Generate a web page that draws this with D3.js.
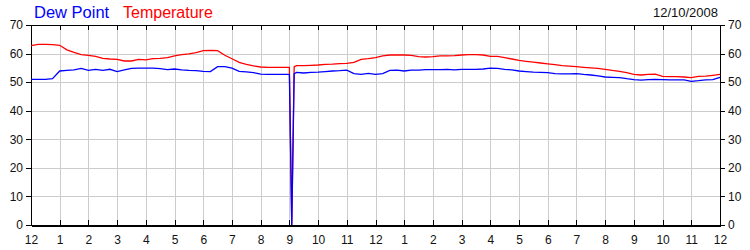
<!DOCTYPE html>
<html>
<head>
<meta charset="utf-8">
<script src="https://cdn.jsdelivr.net/npm/d3@7"></script>
<style>
  html, body { margin: 0; padding: 0; background: #fff; }
  svg { display: block; font-family: Arial, "Liberation Sans", sans-serif; }
  .grid line { stroke: #cccccc; stroke-width: 1; shape-rendering: crispEdges; }
  .axis path, .axis line { stroke: #000; shape-rendering: crispEdges; }
  .axis text { font-size: 12px; fill: #111; }
</style>
</head>
<body>
<div class="chart"></div>
<script>
// hours since midnight (12/10/2008)
const times = [
  0, 0.25, 0.5, 0.75, 1, 1.25, 1.5, 1.75, 2, 2.25, 2.5, 2.75,
  3, 3.25, 3.5, 3.75, 4, 4.25, 4.5, 4.75, 5, 5.25, 5.5, 5.75,
  6, 6.25, 6.5, 6.75, 7, 7.25, 7.5, 7.75, 8, 8.25, 8.5, 8.75,
  9, 9.083, 9.167, 9.25, 9.5, 9.75, 10, 10.25, 10.5, 10.75, 11, 11.25,
  11.5, 11.75, 12, 12.25, 12.5, 12.75, 13, 13.25, 13.5, 13.75, 14, 14.25,
  14.5, 14.75, 15, 15.25, 15.5, 15.75, 16, 16.25, 16.5, 16.75, 17, 17.25,
  17.5, 17.75, 18, 18.25, 18.5, 18.75, 19, 19.25, 19.5, 19.75, 20, 20.25,
  20.5, 20.75, 21, 21.25, 21.5, 21.75, 22, 22.25, 22.5, 22.75, 23, 23.25,
  23.5, 23.75, 24
]

const temperature = [
  62.8, 63.2, 63.2, 63.1, 62.9, 61.3, 60.4, 59.6, 59.4, 59.0, 58.3, 58.1,
  58.0, 57.4, 57.4, 58.0, 57.8, 58.2, 58.3, 58.6, 59.2, 59.6, 59.9, 60.3,
  61.0, 61.1, 61.0, 59.4, 58.2, 56.9, 56.2, 55.7, 55.3, 55.2, 55.2, 55.2,
  55.2, 0, 55.4, 55.8, 55.8, 55.9, 56.0, 56.2, 56.3, 56.5, 56.6, 56.9,
  58.0, 58.2, 58.6, 59.2, 59.5, 59.5, 59.5, 59.4, 58.9, 58.8, 58.9, 59.2,
  59.2, 59.3, 59.5, 59.6, 59.6, 59.5, 59.0, 59.0, 58.6, 58.1, 57.6, 57.3,
  57.0, 56.7, 56.4, 56.1, 55.8, 55.6, 55.4, 55.2, 55.0, 54.8, 54.5, 54.1,
  53.8, 53.3, 52.7, 52.5, 52.7, 52.8, 52.0, 51.9, 51.9, 51.8, 51.6, 52.0,
  52.1, 52.4, 52.7
]

const dewPoint = [
  51.0, 51.0, 51.0, 51.2, 53.9, 54.1, 54.3, 54.8, 54.1, 54.5, 54.1, 54.5,
  53.7, 54.3, 54.8, 54.9, 54.9, 54.9, 54.7, 54.4, 54.6, 54.3, 54.1, 54.0,
  53.8, 53.7, 55.4, 55.4, 54.9, 53.8, 53.6, 53.3, 52.8, 52.7, 52.7, 52.7,
  52.7, 0, 53.0, 53.4, 53.2, 53.4, 53.5, 53.7, 53.9, 54.0, 54.2, 53.0,
  52.7, 53.1, 52.7, 53.0, 54.1, 54.2, 53.9, 54.2, 54.2, 54.4, 54.4, 54.4,
  54.5, 54.3, 54.5, 54.5, 54.5, 54.6, 54.9, 54.8, 54.5, 54.3, 53.9, 53.7,
  53.5, 53.4, 53.3, 53.0, 52.9, 52.9, 53.0, 52.7, 52.5, 52.2, 51.8, 51.7,
  51.6, 51.2, 50.9, 50.7, 50.9, 51.0, 50.9, 50.8, 50.8, 50.8, 50.3, 50.5,
  50.8, 50.9, 51.7
]

const hourTicks = [0, 1, 2, 3, 4, 5, 6, 7, 8, 9, 10, 11, 12, 13, 14, 15, 16, 17, 18, 19, 20, 21, 22, 23, 24]
const hourLabels = ['12', '1', '2', '3', '4', '5', '6', '7', '8', '9', '10', '11', '12', '1', '2', '3', '4', '5', '6', '7', '8', '9', '10', '11', '12']
const valueTicks = [0, 10, 20, 30, 40, 50, 60, 70]
const dateLabel = '12/10/2008'

const width = 750
const height = 250
const plot = { left: 31, right: 720, top: 25, bottom: 225 }

const scaleX = d3.scaleLinear().domain([0, 24]).range([plot.left, plot.right])
const scaleY = d3.scaleLinear().domain([0, 70]).range([plot.bottom, plot.top])

const svg = d3.select('.chart').append('svg')
  .attr('width', width)
  .attr('height', height)

// gridlines
const grid = svg.append('g').attr('class', 'grid')
grid.selectAll('.v').data(hourTicks.slice(1, -1))
  .enter().append('line')
    .attr('x1', d => Math.round(scaleX(d)) + 0.5)
    .attr('x2', d => Math.round(scaleX(d)) + 0.5)
    .attr('y1', plot.top)
    .attr('y2', plot.bottom)
grid.selectAll('.h').data(valueTicks.slice(1, -1))
  .enter().append('line')
    .attr('x1', plot.left)
    .attr('x2', plot.right)
    .attr('y1', d => Math.round(scaleY(d)) + 0.5)
    .attr('y2', d => Math.round(scaleY(d)) + 0.5)

// axes
const xBottom = d3.axisBottom(scaleX)
  .tickValues(hourTicks)
  .tickFormat((d, i) => hourLabels[i])
  .tickSizeInner(-5)
  .tickSizeOuter(0)
  .tickPadding(10)

const xTop = d3.axisTop(scaleX)
  .tickValues(hourTicks)
  .tickFormat('')
  .tickSizeInner(-5)
  .tickSizeOuter(0)

const yLeft = d3.axisLeft(scaleY)
  .tickValues(valueTicks)
  .tickSizeInner(5)
  .tickSizeOuter(0)
  .tickPadding(3)

const yRight = d3.axisRight(scaleY)
  .tickValues(valueTicks)
  .tickSizeInner(5)
  .tickSizeOuter(0)
  .tickPadding(3)

svg.append('g').attr('class', 'axis axis--top')
  .attr('transform', `translate(0, ${plot.top})`)
  .call(xTop)

svg.append('g').attr('class', 'axis axis--left')
  .attr('transform', `translate(${plot.left}, 0)`)
  .call(yLeft)

svg.append('g').attr('class', 'axis axis--right')
  .attr('transform', `translate(${plot.right}, 0)`)
  .call(yRight)

svg.append('g').attr('class', 'axis axis--bottom')
  .attr('transform', `translate(0, ${plot.bottom})`)
  .call(xBottom)

svg.selectAll('.axis text').attr('font-family', null).attr('font-size', null)
svg.select('.axis--bottom .domain').attr('stroke-width', 2)

// series
const line = d3.line()
  .x((d, i) => scaleX(times[i]))
  .y(d => scaleY(d))

svg.append('path')
  .datum(temperature)
  .attr('fill', 'none')
  .attr('stroke', '#ff0000')
  .attr('stroke-width', 1.3)
  .attr('d', line)

svg.append('path')
  .datum(dewPoint)
  .attr('fill', 'none')
  .attr('stroke', '#0000ff')
  .attr('stroke-width', 1.3)
  .attr('d', line)

// legend and date
svg.append('text')
  .attr('x', 34)
  .attr('y', 18)
  .attr('font-size', '16.5px')
  .attr('fill', '#0000ff')
  .text('Dew Point')

svg.append('text')
  .attr('x', 123)
  .attr('y', 18)
  .attr('font-size', '16px')
  .attr('fill', '#ff0000')
  .text('Temperature')

svg.append('text')
  .attr('x', 718)
  .attr('y', 17)
  .attr('text-anchor', 'end')
  .attr('font-size', '13px')
  .attr('fill', '#111')
  .text(dateLabel)
</script>
</body>
</html>
